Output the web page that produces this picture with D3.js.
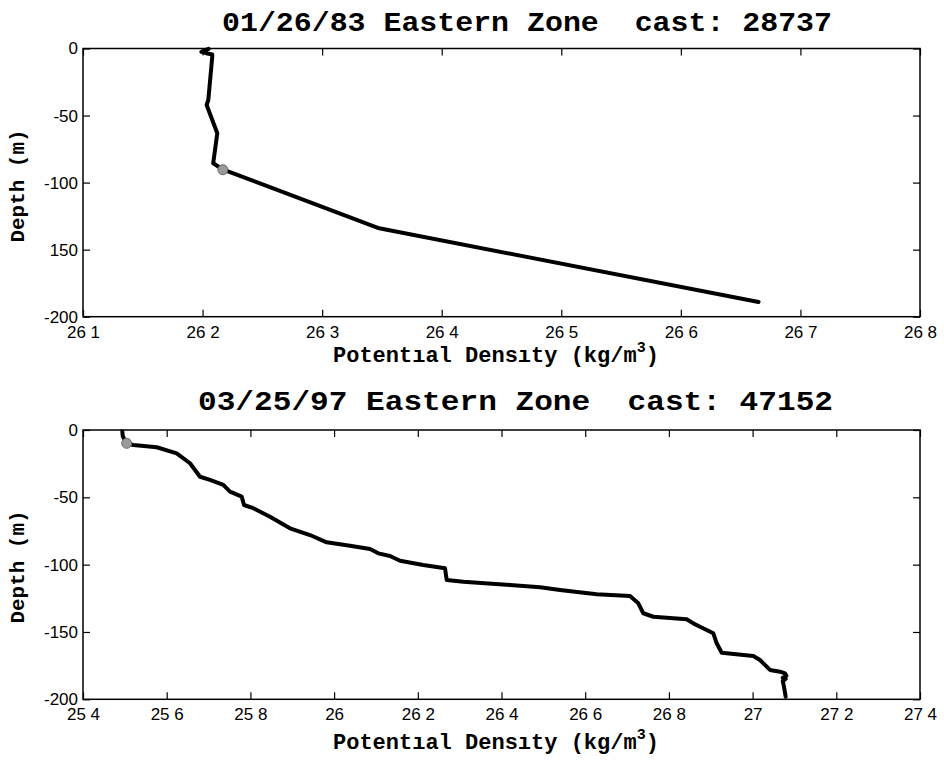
<!DOCTYPE html>
<html>
<head>
<meta charset="utf-8">
<script src="https://cdn.jsdelivr.net/npm/d3@7"></script>
<style>
  body { margin: 0; background: #fff; }
  svg { display: block; }
  .tick text { font-family: "Liberation Sans", Arial, sans-serif; font-size: 17px; fill: #000; }
  .lbl { font-family: "Liberation Mono", "Courier New", monospace; font-weight: bold; fill: #000; }
</style>
</head>
<body>
<script>
// cast 28737 (01/26/83)
var topDensity = [26.2050, 26.1990, 26.2030, 26.2081, 26.2081, 26.2048, 26.2034, 26.2123, 26.2089, 26.2168, 26.3477, 26.6650];
var topDepth   = [-0.3, -2.5, -3.5, -4.5, -6.1, -38.4, -42.1, -63.2, -85.6, -90.1, -134.1, -189.0];
var topMarker  = [26.2170, -90.4];

// cast 47152 (03/25/97)
var botDensity = [25.4939, 25.4950, 25.5000, 25.5044, 25.5202, 25.5761, 25.6239, 25.6557, 25.6796, 25.7035,
                  25.7352, 25.7513, 25.7792, 25.7847, 25.8069, 25.8468, 25.8946, 25.9424, 25.9823, 26.0380,
                  26.0858, 26.1056, 26.1336, 26.1575, 26.2131, 26.2650, 26.2691, 26.3087, 26.4203, 26.4920,
                  26.5398, 26.6275, 26.7070, 26.7269, 26.7388, 26.7627, 26.8425, 26.8583, 26.8743, 26.9061,
                  26.9142, 26.9262, 27.0017, 27.0177, 27.0416, 27.0655, 27.0774, 27.0810, 27.0720, 27.0790,
                  27.0720, 27.0750, 27.0790];
var botDepth   = [-1.0, -4.5, -7.5, -9.9, -11.1, -12.8, -17.3, -24.7, -34.7, -37.1,
                  -40.8, -45.8, -49.5, -55.7, -58.1, -64.4, -73.0, -78.0, -83.4, -85.9,
                  -88.4, -91.6, -93.6, -97.1, -100.3, -102.7, -111.4, -112.7, -115.1, -116.8,
                  -118.8, -122.0, -123.3, -128.7, -136.1, -138.7, -140.6, -143.6, -146.1, -151.0,
                  -158.4, -165.4, -167.8, -170.8, -178.2, -179.5, -180.8, -182.5, -184.0, -184.8,
                  -186.5, -190.6, -198.1];
var botMarker  = [25.5044, -9.9];

// ticks (labels as printed in the scan)
var topXTicks  = [26.1, 26.2, 26.3, 26.4, 26.5, 26.6, 26.7, 26.8];
var topXLabels = ["26 1", "26 2", "26 3", "26 4", "26 5", "26 6", "26 7", "26 8"];
var topYTicks  = [0, -50, -100, -150, -200];
var topYLabels = ["0", "-50", "-100", "150", "-200"];

var botXTicks  = [25.4, 25.6, 25.8, 26.0, 26.2, 26.4, 26.6, 26.8, 27.0, 27.2, 27.4];
var botXLabels = ["25 4", "25 6", "25 8", "26", "26 2", "26 4", "26 6", "26 8", "27", "27 2", "27 4"];
var botYTicks  = [0, -50, -100, -150, -200];
var botYLabels = ["0", "-50", "-100", "-150", "-200"];

var svg = d3.select("body").append("svg")
    .attr("width", 944)
    .attr("height", 760);

function panel(opt) {
  var left = 83, right = 920;
  var x = d3.scaleLinear().domain(opt.xDomain).range([left, right]);
  var y = d3.scaleLinear().domain([-200, 0]).range([opt.bottom, opt.top]);
  var g = svg.append("g");

  // title
  g.append("text").attr("class", "lbl")
    .attr("x", opt.titleX).attr("y", opt.titleY)
    .attr("font-size", 28)
    .attr("textLength", opt.titleLen).attr("lengthAdjust", "spacingAndGlyphs")
    .attr("xml:space", "preserve")
    .text(opt.title);

  // inward ticks on all four sides (matlab style)
  var xb = d3.axisBottom(x).tickValues(opt.xTicks).tickSizeInner(-7).tickSizeOuter(0).tickPadding(9)
    .tickFormat(function(d, i) { return opt.xLabels[i]; });
  g.append("g").attr("transform", "translate(0," + opt.bottom + ")").call(xb);

  g.append("g").attr("transform", "translate(0," + opt.top + ")")
    .call(d3.axisTop(x).tickValues(opt.xTicks).tickSizeInner(-7).tickSizeOuter(0).tickFormat(""));

  var yl = d3.axisLeft(y).tickValues(opt.yTicks).tickSizeInner(-7).tickSizeOuter(0).tickPadding(5)
    .tickFormat(function(d, i) { return opt.yLabels[i]; });
  g.append("g").attr("transform", "translate(" + left + ",0)").call(yl);

  g.append("g").attr("transform", "translate(" + right + ",0)")
    .call(d3.axisRight(y).tickValues(opt.yTicks).tickSizeInner(-7).tickSizeOuter(0).tickFormat(""));

  g.selectAll(".domain").remove();
  g.selectAll(".tick line").attr("stroke", "#000").attr("stroke-width", 1.2);

  g.append("rect")
    .attr("x", left).attr("y", opt.top)
    .attr("width", right - left).attr("height", opt.bottom - opt.top)
    .attr("fill", "none").attr("stroke", "#000").attr("stroke-width", 1.5);

  // profile
  var pts = opt.dens.map(function(d, i) { return [d, opt.depth[i]]; });
  var line = d3.line()
    .x(function(d) { return x(d[0]); })
    .y(function(d) { return y(d[1]); });
  g.append("path").datum(pts)
    .attr("d", line)
    .attr("fill", "none").attr("stroke", "#000")
    .attr("stroke-width", 4).attr("stroke-linejoin", "round").attr("stroke-linecap", "round");

  g.append("circle")
    .attr("cx", x(opt.marker[0])).attr("cy", y(opt.marker[1])).attr("r", 5)
    .attr("fill", "#9a9a9a").attr("stroke", "#6a6a6a").attr("stroke-width", 1);

  // axis labels
  var xl = g.append("text").attr("class", "lbl")
    .attr("x", 333).attr("y", opt.xLabelY)
    .attr("font-size", 22)
    .attr("xml:space", "preserve");
  xl.append("tspan").text("Potent\u0131al Dens\u0131ty (kg/m");
  xl.append("tspan").attr("dy", -10).attr("font-size", 15).text("3");
  xl.append("tspan").attr("dy", 10).text(")");

  g.append("text").attr("class", "lbl")
    .attr("transform", "translate(24," + opt.yLabelY + ") rotate(-90)")
    .attr("text-anchor", "middle")
    .attr("font-size", 21)
    .attr("textLength", 113).attr("lengthAdjust", "spacingAndGlyphs")
    .text("Depth (m)");
}

panel({
  title: "01/26/83 Eastern Zone  cast: 28737", titleX: 222, titleY: 31, titleLen: 610,
  top: 48.5, bottom: 316.7, xDomain: [26.1, 26.8],
  xTicks: topXTicks, xLabels: topXLabels, yTicks: topYTicks, yLabels: topYLabels,
  dens: topDensity, depth: topDepth, marker: topMarker,
  xLabelY: 362, yLabelY: 186
});

panel({
  title: "03/25/97 Eastern Zone  cast: 47152", titleX: 198, titleY: 410, titleLen: 635,
  top: 430, bottom: 699.3, xDomain: [25.4, 27.4],
  xTicks: botXTicks, xLabels: botXLabels, yTicks: botYTicks, yLabels: botYLabels,
  dens: botDensity, depth: botDepth, marker: botMarker,
  xLabelY: 749, yLabelY: 567
});
</script>
</body>
</html>
